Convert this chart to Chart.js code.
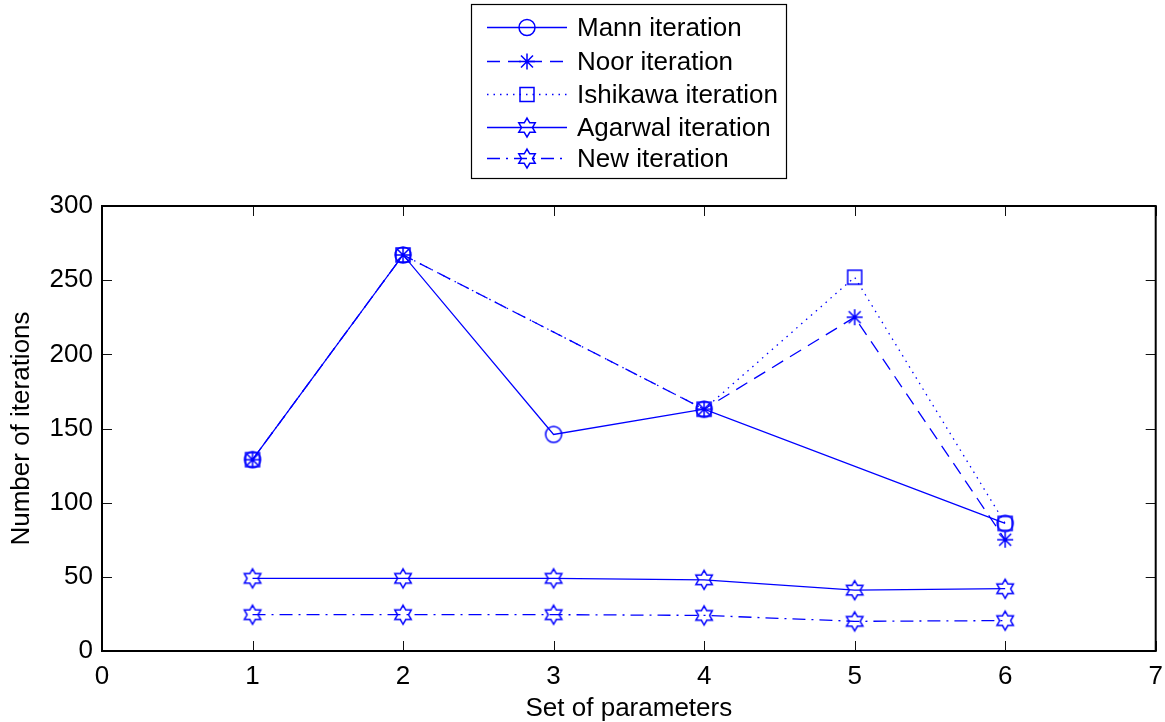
<!DOCTYPE html>
<html>
<head>
<meta charset="utf-8">
<script src="https://cdn.jsdelivr.net/npm/chart.js@4/dist/chart.umd.min.js"></script>
<style>
  html, body { margin: 0; padding: 0; background: #fff; }
  #wrap { width: 1165px; height: 722px; }
</style>
</head>
<body>
<div id="wrap"><canvas id="c" width="1165" height="722"></canvas></div>
<script>
// ---- data ----
const params = [1, 2, 3, 4, 5, 6];
const mann = [129, 267, 146, 163, null, 86];
const noor = [129, 267, null, 163, 225, 75];
const ishikawa = [129, 267, null, 163, 252, 86];
const agarwal = [49, 49, 49, 48, 41, 42];
const newIter = [24.5, 24.5, 24.5, 24, 20, 20.5];
const seriesNames = ['Mann iteration', 'Noor iteration', 'Ishikawa iteration', 'Agarwal iteration', 'New iteration'];
const xTicks = [0, 1, 2, 3, 4, 5, 6, 7];
const yTicks = [0, 50, 100, 150, 200, 250, 300];

const BLUE = '#0000ff';
const FONT = '"Liberation Sans", Arial, Helvetica, sans-serif';

function drawMarker(ctx, type, x, y) {
  ctx.save();
  ctx.strokeStyle = BLUE;
  ctx.lineWidth = 1.5;
  ctx.setLineDash([]);
  ctx.beginPath();
  if (type === 'circle') {
    ctx.arc(x, y, 8, 0, Math.PI * 2);
  } else if (type === 'asterisk') {
    const r = 8, d = 6;
    ctx.moveTo(x, y - r); ctx.lineTo(x, y + r);
    ctx.moveTo(x - r, y); ctx.lineTo(x + r, y);
    ctx.moveTo(x - d, y - d); ctx.lineTo(x + d, y + d);
    ctx.moveTo(x - d, y + d); ctx.lineTo(x + d, y - d);
  } else if (type === 'square') {
    ctx.rect(x - 7, y - 7, 14, 14);
  } else if (type === 'hexagram') {
    const R = 9.5, r = R / Math.sqrt(3);
    for (let k = 0; k < 12; k++) {
      const a = -Math.PI / 2 + k * Math.PI / 6;
      const rr = (k % 2 === 0) ? R : r;
      const px = x + rr * Math.cos(a), py = y + rr * Math.sin(a);
      if (k === 0) ctx.moveTo(px, py); else ctx.lineTo(px, py);
    }
    ctx.closePath();
  }
  ctx.stroke();
  ctx.restore();
}

function markerCanvas(type) {
  const c = document.createElement('canvas');
  c.width = 26; c.height = 26;
  drawMarker(c.getContext('2d'), type, 13, 13);
  return c;
}

function pts(vals) {
  return params.map((p, i) => ({ x: p, y: vals[i] }));
}

const styles = [
  { marker: 'circle', dash: [] },
  { marker: 'asterisk', dash: [13, 8] },
  { marker: 'square', dash: [1.5, 5] },
  { marker: 'hexagram', dash: [] },
  { marker: 'hexagram', dash: [13, 6, 2, 6] }
];
const values = [mann, noor, ishikawa, agarwal, newIter];

const datasets = values.map((v, i) => ({
  label: seriesNames[i],
  data: pts(v),
  borderColor: BLUE,
  backgroundColor: 'rgba(0,0,0,0)',
  borderWidth: 1.3,
  borderDash: styles[i].dash,
  pointStyle: markerCanvas(styles[i].marker),
  pointRadius: 8,
  fill: false,
  tension: 0,
  spanGaps: true,
  markerType: styles[i].marker
}));

const framePlugin = {
  id: 'frame',
  afterDraw(chart) {
    const ctx = chart.ctx;
    const a = chart.chartArea;
    const xs = chart.scales.x, ys = chart.scales.y;
    ctx.save();
    ctx.strokeStyle = '#111';
    ctx.lineWidth = 1;
    ctx.setLineDash([]);
    // inward ticks
    ctx.beginPath();
    xTicks.forEach(t => {
      const px = Math.round(xs.getPixelForValue(t)) + 0.5;
      ctx.moveTo(px, a.bottom); ctx.lineTo(px, a.bottom - 10);
      ctx.moveTo(px, a.top); ctx.lineTo(px, a.top + 10);
    });
    yTicks.forEach(t => {
      const py = Math.round(ys.getPixelForValue(t)) + 0.5;
      ctx.moveTo(a.left, py); ctx.lineTo(a.left + 10, py);
      ctx.moveTo(a.right, py); ctx.lineTo(a.right - 10, py);
    });
    ctx.stroke();
    // box
    ctx.lineWidth = 2;
    ctx.strokeStyle = '#000';
    ctx.strokeRect(a.left, a.top, a.right - a.left, a.bottom - a.top);

    // legend
    const bx = 471.5, by = 4.5, bw = 315, bh = 174;
    ctx.fillStyle = '#fff';
    ctx.fillRect(bx, by, bw, bh);
    ctx.lineWidth = 1.2;
    ctx.strokeStyle = '#000';
    ctx.strokeRect(bx, by, bw, bh);
    const rowY = [27, 61, 94, 127, 158];
    chart.data.datasets.forEach((ds, i) => {
      const y = rowY[i] + 0.5;
      ctx.save();
      ctx.strokeStyle = ds.borderColor;
      ctx.lineWidth = ds.borderWidth;
      ctx.setLineDash(ds.borderDash || []);
      ctx.beginPath();
      ctx.moveTo(487, y); ctx.lineTo(567, y);
      ctx.stroke();
      ctx.restore();
      drawMarker(ctx, ds.markerType, 527, y);
      ctx.fillStyle = '#000';
      ctx.font = '26px ' + FONT;
      ctx.textBaseline = 'middle';
      ctx.textAlign = 'left';
      ctx.fillText(ds.label, 577, y + 1);
    });
    ctx.restore();
  }
};

new Chart(document.getElementById('c'), {
  type: 'line',
  data: { datasets },
  options: {
    responsive: false,
    animation: false,
    devicePixelRatio: 1,
    layout: { padding: { top: 206, right: 9, left: 0, bottom: 0 } },
    plugins: { legend: { display: false }, tooltip: { enabled: false } },
    scales: {
      x: {
        type: 'linear', min: 0, max: 7,
        afterBuildTicks(s) { s.ticks = xTicks.map(v => ({ value: v })); },
        afterFit(s) { s.height = 71; s.paddingLeft = 0; s.paddingRight = 0; },
        grid: { display: false, drawTicks: false },
        border: { display: false },
        ticks: { color: '#000', font: { family: FONT, size: 26 }, padding: 10, maxRotation: 0 },
        title: { display: true, text: 'Set of parameters', color: '#000', font: { family: FONT, size: 26 }, padding: { top: 0, bottom: -2 } }
      },
      y: {
        type: 'linear', min: 0, max: 300,
        afterBuildTicks(s) { s.ticks = yTicks.map(v => ({ value: v })); },
        afterFit(s) { s.width = 102; s.paddingTop = 0; s.paddingBottom = 0; },
        grid: { display: false, drawTicks: false },
        border: { display: false },
        ticks: { color: '#000', font: { family: FONT, size: 26 }, padding: 9 },
        title: { display: true, text: 'Number of iterations', color: '#000', font: { family: FONT, size: 26 }, padding: { top: 6, bottom: 0 } }
      }
    }
  },
  plugins: [framePlugin]
});
</script>
</body>
</html>
